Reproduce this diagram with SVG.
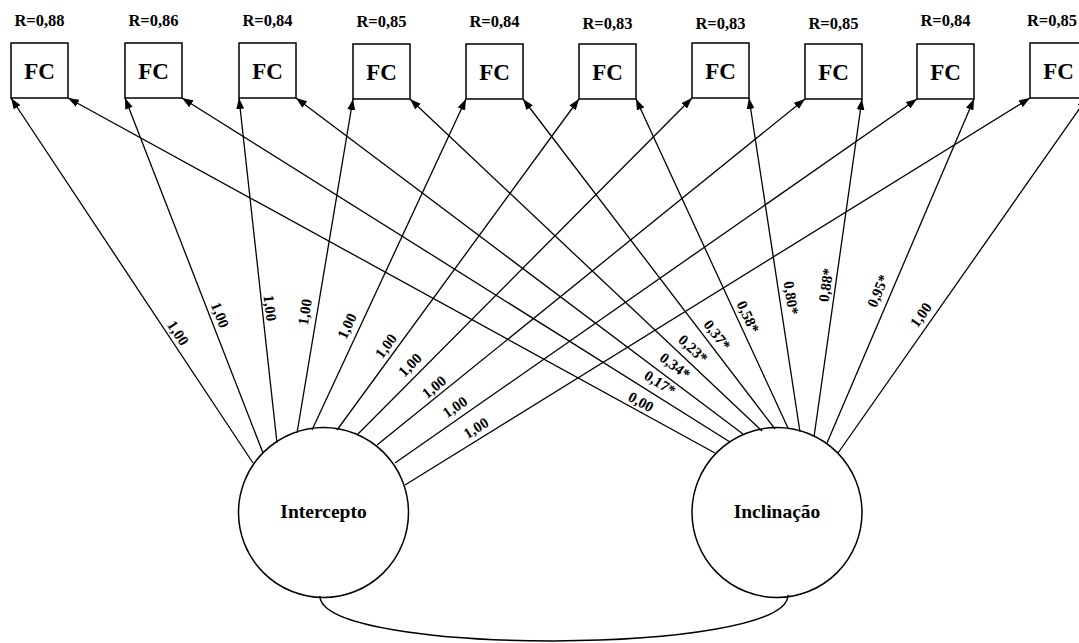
<svg xmlns="http://www.w3.org/2000/svg" width="1079" height="643" viewBox="0 0 1079 643">
<style>
.box{fill:#fff;stroke:#000;stroke-width:1.5}
.circ{fill:#fff;stroke:#000;stroke-width:1.5}
.fc{font-family:"Liberation Serif",serif;font-weight:bold;font-size:23px;text-anchor:middle}
.r{font-family:"Liberation Serif",serif;font-weight:bold;font-size:16.5px;text-anchor:middle}
.lat{font-family:"Liberation Serif",serif;font-weight:bold;font-size:19.5px;text-anchor:middle}
.lbl{font-family:"Liberation Serif",serif;font-weight:bold;font-size:15px;text-anchor:middle}
.ln{stroke:#000;stroke-width:1.3;fill:none;marker-end:url(#ah)}
.cov{stroke:#000;stroke-width:1.5;fill:none}
</style>
<defs>
<marker id="ah" markerUnits="userSpaceOnUse" markerWidth="11" markerHeight="8" refX="11" refY="4" orient="auto">
<path d="M0,0 L11,4 L0,8 z" fill="#000"/>
</marker>
</defs>
<rect width="1079" height="643" fill="#fff"/>

<g id="fc1"><rect class="box" x="11" y="43" width="57" height="55"/><text class="fc" x="39.5" y="79">FC</text><text class="r" x="39.5" y="26">R=0,88</text></g>
<g id="fc2"><rect class="box" x="125" y="43" width="57" height="55"/><text class="fc" x="153.5" y="79">FC</text><text class="r" x="153.5" y="26">R=0,86</text></g>
<g id="fc3"><rect class="box" x="239" y="43" width="57" height="55"/><text class="fc" x="267.5" y="79">FC</text><text class="r" x="267.5" y="26">R=0,84</text></g>
<g id="fc4"><rect class="box" x="353" y="44" width="57" height="55"/><text class="fc" x="381.5" y="80">FC</text><text class="r" x="381.5" y="27">R=0,85</text></g>
<g id="fc5"><rect class="box" x="466" y="44" width="57" height="55"/><text class="fc" x="494.5" y="80">FC</text><text class="r" x="494.5" y="27">R=0,84</text></g>
<g id="fc6"><rect class="box" x="579" y="44" width="57" height="55"/><text class="fc" x="607.5" y="80">FC</text><text class="r" x="607.5" y="29">R=0,83</text></g>
<g id="fc7"><rect class="box" x="692" y="43" width="57" height="55"/><text class="fc" x="720.5" y="79">FC</text><text class="r" x="720.5" y="29">R=0,83</text></g>
<g id="fc8"><rect class="box" x="805" y="44" width="57" height="55"/><text class="fc" x="833.5" y="80">FC</text><text class="r" x="833.5" y="29">R=0,85</text></g>
<g id="fc9"><rect class="box" x="917" y="44" width="57" height="55"/><text class="fc" x="945.5" y="80">FC</text><text class="r" x="945.5" y="26">R=0,84</text></g>
<g id="fc10"><rect class="box" x="1030" y="43" width="57" height="55"/><text class="fc" x="1058.5" y="79">FC</text><text class="r" x="1052" y="26">R=0,85</text></g>

<g id="intercepto"><circle class="circ" cx="323.5" cy="512.5" r="85"/><text class="lat" x="323.5" y="518">Intercepto</text></g>
<g id="inclinacao"><circle class="circ" cx="777" cy="512.5" r="85"/><text class="lat" x="777" y="518">Inclinação</text></g>

<g id="connectors">
<line class="ln" x1="253" y1="463" x2="11" y2="98"/>
<line class="ln" x1="263" y1="453" x2="125" y2="98"/>
<line class="ln" x1="277" y1="443" x2="239" y2="98"/>
<line class="ln" x1="297" y1="433" x2="353" y2="99"/>
<line class="ln" x1="312" y1="430" x2="466" y2="99"/>
<line class="ln" x1="337" y1="430" x2="579" y2="99"/>
<line class="ln" x1="357" y1="435" x2="692" y2="98"/>
<line class="ln" x1="377" y1="445" x2="805" y2="99"/>
<line class="ln" x1="395" y1="463" x2="917" y2="99"/>
<line class="ln" x1="405" y1="485" x2="1030" y2="98"/>

<line class="ln" x1="715" y1="453" x2="68" y2="98"/>
<line class="ln" x1="730" y1="442" x2="182" y2="98"/>
<line class="ln" x1="743" y1="434" x2="296" y2="98"/>
<line class="ln" x1="762" y1="431" x2="410" y2="99"/>
<line class="ln" x1="775" y1="429" x2="523" y2="99"/>
<line class="ln" x1="788" y1="428" x2="636" y2="99"/>
<line class="ln" x1="800" y1="432" x2="749" y2="98"/>
<line class="ln" x1="814" y1="437" x2="862" y2="99"/>
<line class="ln" x1="827" y1="443" x2="974" y2="99"/>
<line class="ln" x1="838" y1="453" x2="1087" y2="98"/>

<path class="cov" d="M320,596 C320,656 788,656 788,595"/>

<g class="lbl">
<text transform="translate(178,333) rotate(56.5)" y="5">1,00</text>
<text transform="translate(220,315) rotate(68.8)" y="5">1,00</text>
<text transform="translate(270,308) rotate(83.7)" y="5">1,00</text>
<text transform="translate(305,312) rotate(-80.5)" y="5">1,00</text>
<text transform="translate(347,326) rotate(-65.1)" y="5">1,00</text>
<text transform="translate(386,346) rotate(-53.8)" y="5">1,00</text>
<text transform="translate(410,365) rotate(-45.2)" y="5">1,00</text>
<text transform="translate(434,387) rotate(-39)" y="5">1,00</text>
<text transform="translate(455,407) rotate(-34.9)" y="5">1,00</text>
<text transform="translate(476,428) rotate(-31.8)" y="5">1,00</text>

<text transform="translate(641,402) rotate(28.8)" y="5">0,00</text>
<text transform="translate(660,383) rotate(32.1)" y="5">0,17*</text>
<text transform="translate(675,366) rotate(36.9)" y="5">0,34*</text>
<text transform="translate(693,349) rotate(43.2)" y="5">0,23*</text>
<text transform="translate(717,335) rotate(52.5)" y="5">0,37*</text>
<text transform="translate(748,317) rotate(65.1)" y="5">0,58*</text>
<text transform="translate(791,298) rotate(81.2)" y="5">0,80*</text>
<text transform="translate(826,285) rotate(-81.9)" y="5">0,88*</text>
<text transform="translate(878,291) rotate(-66.9)" y="5">0,95*</text>
<text transform="translate(921,315) rotate(-55)" y="5">1,00</text>
</g>
</g>
</svg>
